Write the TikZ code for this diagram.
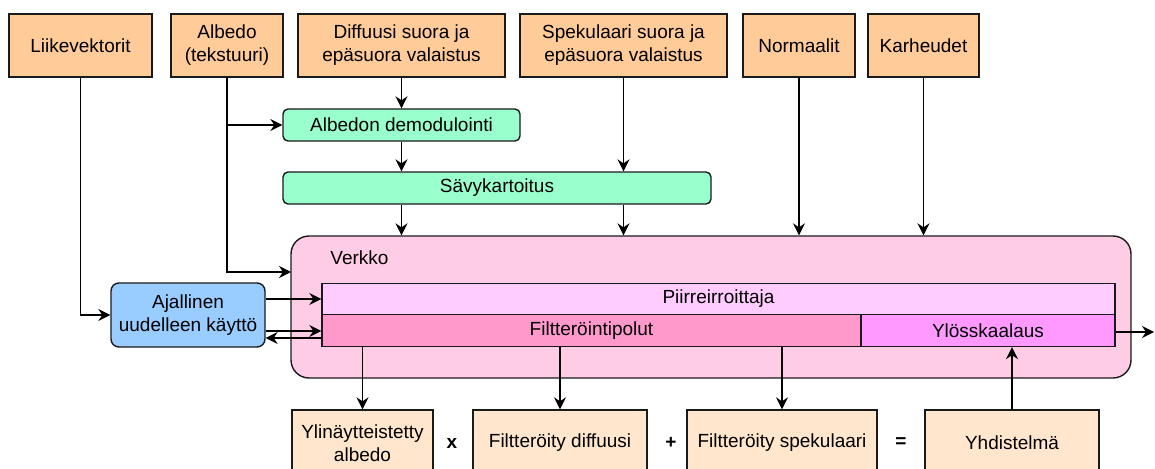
\documentclass[tikz,border=0pt]{standalone}
\usepackage{fontspec}
\setmainfont{Liberation Sans}
\usetikzlibrary{arrows.meta}

\definecolor{inputfill}{HTML}{FFCC99}
\definecolor{outputfill}{HTML}{FFE6CC}
\definecolor{prefill}{HTML}{99FFCC}
\definecolor{reusefill}{HTML}{99CCFF}
\definecolor{netfill}{HTML}{FFCCE6}
\definecolor{featfill}{HTML}{FFCCFF}
\definecolor{filtfill}{HTML}{FF99CC}
\definecolor{upfill}{HTML}{FF99FF}
\definecolor{edge}{HTML}{1A1A1A}

\tikzset{
  base/.style={draw=edge, line width=1.4pt, inner sep=0pt, align=center,
    font=\fontsize{19}{23}\selectfont},
  inbox/.style={base, fill=inputfill, minimum height=63pt},
  outbox/.style={base, fill=outputfill, minimum height=66pt},
  prebox/.style={base, fill=prefill, rounded corners=5pt, minimum height=32pt},
  reusebox/.style={base, fill=reusefill, rounded corners=8pt, minimum height=64pt},
  netbox/.style={base, fill=netfill, rounded corners=18pt},
  band/.style={base},
  txt/.style={inner sep=0pt, font=\fontsize{19}{23}\selectfont},
  op/.style={inner sep=0pt, font=\fontsize{19}{23}\selectfont\bfseries},
  arr/.style={draw=black, line width=1.4pt,
    -{Stealth[length=12pt,width=12pt,inset=4pt]}},
}

\begin{document}
\begin{tikzpicture}[x=1pt,y=-1pt]
\useasboundingbox (0,0) rectangle (1155,468);
\clip (0,0) rectangle (1155,468);

% inputs
\node[inbox, minimum width=143pt] (lv)  at (80.5,45.5)  {Liikevektorit};
\node[inbox, minimum width=112pt] (alb) at (227,45.5)   {Albedo\\(tekstuuri)};
\node[inbox, minimum width=207pt] (dif) at (401.5,45.5) {Diffuusi suora ja\\epäsuora valaistus};
\node[inbox, minimum width=207pt] (spe) at (623.5,45.5) {Spekulaari suora ja\\epäsuora valaistus};
\node[inbox, minimum width=112pt] (nor) at (799,45.5)   {Normaalit};
\node[inbox, minimum width=111pt] (kar) at (923.5,45.5) {Karheudet};

% preprocessing
\node[prebox, minimum width=237pt] (dem) at (401.5,125) {Albedon demodulointi};
\node[prebox, minimum width=428pt] (sav) at (497,188)   {Sävykartoitus};

% network
\node[netbox, minimum width=840pt, minimum height=142pt] (net) at (711,307) {};
\node[txt] (netl) at (359.5,258) {Verkko};
\node[band, fill=featfill, minimum width=793pt, minimum height=31pt] (piir) at (718.5,299) {Piirreirroittaja};
\node[band, fill=filtfill, minimum width=539pt, minimum height=32pt] (filt) at (591.5,330.5) {Filtteröintipolut};
\node[band, fill=upfill, minimum width=254pt, minimum height=32pt] (ylo) at (988,330.5) {Ylösskaalaus};

% temporal reuse
\node[reusebox, minimum width=154pt] (ajal) at (188,315) {Ajallinen\\uudelleen käyttö};

% outputs
\node[outbox, minimum width=141pt] (yli) at (362.5,443) {Ylinäytteistetty\\albedo};
\node[outbox, minimum width=174pt] (fdi) at (560,443)   {Filtteröity diffuusi};
\node[outbox, minimum width=190pt] (fsp) at (782,443)   {Filtteröity spekulaari};
\node[outbox, minimum width=174pt] (yhd) at (1012,443)  {Yhdistelmä};
\node[op] (opx) at (452,443) {x};
\node[op] (opp) at (671,443) {+};
\node[op] (ope) at (901,443) {=};

% helper coordinates
\coordinate (albin) at (291,272);
\coordinate (fwd) at (0,331);
\coordinate (bwd) at (0,338);
\coordinate (outend) at (1154,332);

% connectors
\draw[arr] (lv.south) |- (ajal.west);
\draw[arr] (alb.south) |- (albin);
\draw[arr] (alb.south |- dem.west) -- (dem.west);
\draw[arr] (dif.south) -- (dem.north);
\draw[arr] (dem.south) -- (dem.south |- sav.north);
\draw[arr] (dem.south |- sav.south) -- (dem.south |- net.north);
\draw[arr] (spe.south) -- (spe.south |- sav.north);
\draw[arr] (spe.south |- sav.south) -- (spe.south |- net.north);
\draw[arr] (nor.south) -- (nor.south |- net.north);
\draw[arr] (kar.south) -- (kar.south |- net.north);

\draw[arr] (ajal.east |- piir.west) -- (piir.west);
\draw[arr] (ajal.east |- fwd) -- (filt.west |- fwd);
\draw[arr] (filt.west |- bwd) -- (ajal.east |- bwd);

\draw[arr] (yli.north |- filt.south) -- (yli.north);
\draw[arr] (fdi.north |- filt.south) -- (fdi.north);
\draw[arr] (fsp.north |- filt.south) -- (fsp.north);
\draw[arr] (yhd.north) -- (yhd.north |- ylo.south);
\draw[arr] (ylo.east |- outend) -- (outend);
\end{tikzpicture}
\end{document}
